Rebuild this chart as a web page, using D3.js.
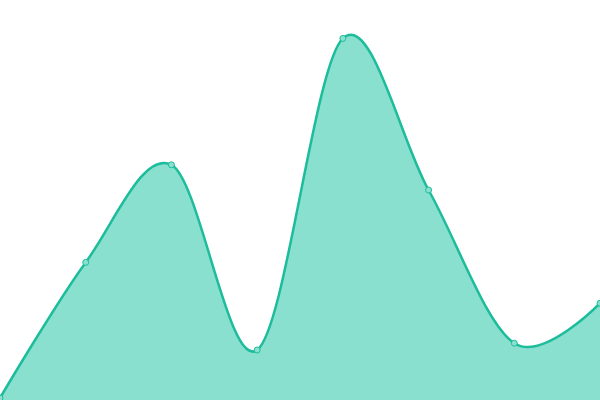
<!DOCTYPE html>
<html><head><meta charset="utf-8">
<script src="https://cdn.jsdelivr.net/npm/d3@7"></script>
<style>html,body{margin:0;padding:0;background:#fff;overflow:hidden}</style>
</head><body>
<svg id="chart" width="600" height="400"></svg>
<script>
const categories = ["1","2","3","4","5","6","7","8"];
const values = [0.5, 34.4, 58.8, 12.5, 90.4, 52.5, 14.2, 24.2];
const yDomain = [0, 100];

const W = 600, H = 400;
const svg = d3.select("#chart");
const x = d3.scalePoint().domain(categories).range([0, W]);
const y = d3.scaleLinear().domain(yDomain).range([H, 0]);
const data = categories.map((c, i) => ({c, v: values[i]}));
const curve = d3.curveCardinal;

svg.append("path").datum(data)
  .attr("d", d3.area().x(d => x(d.c)).y0(y(0)).y1(d => y(d.v)).curve(curve))
  .attr("fill", "#8ae0cf");
svg.append("path").datum(data)
  .attr("d", d3.line().x(d => x(d.c)).y(d => y(d.v)).curve(curve))
  .attr("fill", "none").attr("stroke", "#1dbc9b").attr("stroke-width", 2.5);
svg.selectAll("circle").data(data).join("circle")
  .attr("cx", d => x(d.c)).attr("cy", d => y(d.v)).attr("r", 3)
  .attr("fill", "#8ae0cf").attr("stroke", "#1dbc9b").attr("stroke-width", 1);
</script>
</body></html>
